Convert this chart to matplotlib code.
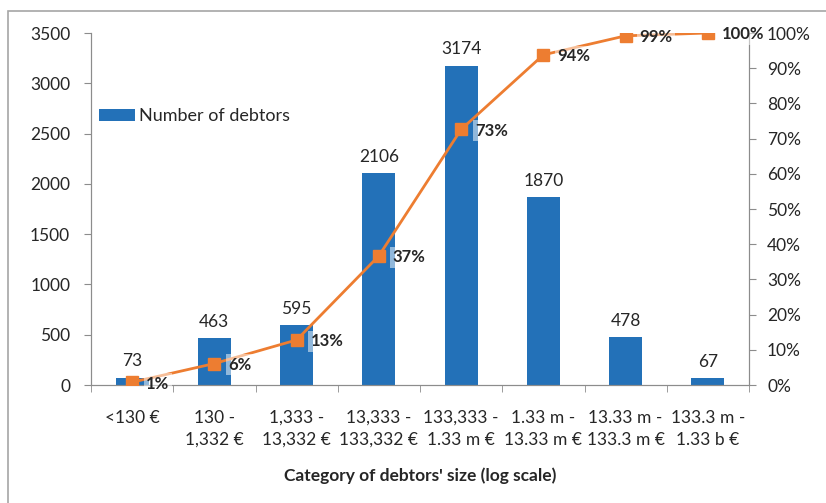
import matplotlib.pyplot as plt
import matplotlib.patches as mpatches
import numpy as np

# Kategorie wielkości dłużników i ich liczebność
categories = ['<130 €', '130 -\n1,332 €', '1,333 -\n13,332 €', '13,333 -\n133,332 €',
              '133,333 -\n1.33 m €', '1.33 m -\n13.33 m €', '13.33 m -\n133.3 m €', '133.3 m -\n1.33 b €']
debtors = [73, 463, 595, 2106, 3174, 1870, 478, 67]
cumulative = [0.008, 0.061, 0.128, 0.367, 0.726, 0.938, 0.992, 1.0]

BLUE = '#2371b8'
ORANGE = '#ed7d31'
TEXT = '#262626'
GRID = '#8c8c8c'

plt.rcParams['font.family'] = ['Lato', 'DejaVu Sans']

fig = plt.figure(figsize=(8.26, 5.03), dpi=100)
ax = fig.add_axes([91 / 826, 1 - 385 / 503, (749 - 91) / 826, (385 - 33) / 503])
ax2 = ax.twinx()

x = np.arange(len(categories))
bars = ax.bar(x, debtors, width=0.4, color=BLUE, label='Number of debtors', zorder=2)
for xi, v in zip(x, debtors):
    ax.annotate(str(v), (xi, v), xytext=(0, 6), textcoords='offset points',
                ha='center', va='bottom', fontsize=12.5, color=TEXT)

ax.set_xlim(-0.5, len(categories) - 0.5)
ax.set_ylim(0, 3500)
ax.set_yticks(np.arange(0, 3501, 500))
ax.set_xticks(x)
ax.set_xticklabels(categories, fontsize=12.5, color=TEXT, linespacing=1.45)
ax.set_xticks(np.arange(-0.5, len(categories)), minor=True)
ax.tick_params(axis='x', which='major', length=0, pad=18)
ax.tick_params(axis='x', which='minor', length=5, color=GRID)
ax.tick_params(axis='y', labelsize=12.5, labelcolor=TEXT, length=5, color=GRID, pad=10)
ax.set_xlabel("Category of debtors' size (log scale)", fontsize=12.5, fontweight='bold',
              color=TEXT, labelpad=14)

ax2.plot(x, cumulative, color=ORANGE, lw=2, marker='s', markersize=8, zorder=3)
for xi, v in zip(x, cumulative):
    ax2.annotate(f'{round(v * 100)}%', (xi, v), xytext=(10, -1), textcoords='offset points',
                 ha='left', va='center', fontsize=12, fontweight='bold', color=TEXT,
                 bbox=dict(boxstyle='square,pad=0.15', fc='white', ec='none', alpha=0.5),
                 zorder=4)
ax2.set_ylim(0, 1)
ax2.set_yticks(np.arange(0, 1.01, 0.1))
ax2.set_yticklabels([f'{int(round(t * 100))}%' for t in np.arange(0, 1.01, 0.1)])
ax2.tick_params(axis='y', labelsize=12.5, labelcolor=TEXT, length=5, color=GRID, pad=8)

for a in (ax, ax2):
    a.spines['top'].set_visible(False)
    for s in ('left', 'right', 'bottom'):
        a.spines[s].set_color(GRID)

ax.legend(handles=[bars], loc='upper left', bbox_to_anchor=(0.012, 0.787), frameon=False,
          borderaxespad=0, borderpad=0, fontsize=13, handlelength=2.0, handleheight=0.65,
          handletextpad=0.2, labelcolor=TEXT)

# ramka wykresu
fig.patches.append(mpatches.Rectangle((8 / 826, -0.1), 1.1, 1.1 - 11 / 503, transform=fig.transFigure,
                                      fill=False, ec='#a6a6a6', lw=1.2))

fig.savefig('out.png', dpi=100)
